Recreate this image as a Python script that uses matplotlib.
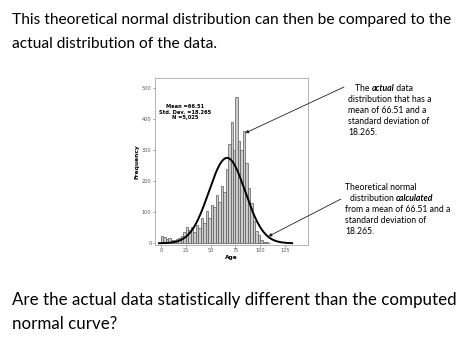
import numpy as np
import matplotlib.pyplot as plt

# histogram of ages, bins 2.5 wide starting at 0
BIN_WIDTH = 2.5
bin_starts = np.arange(0, 110, BIN_WIDTH)
counts = [22, 21, 14, 16, 12, 10, 14, 16, 22, 36,
          51, 43, 51, 37, 59, 50, 80, 64, 104, 80,
          123, 116, 155, 134, 185, 165, 240, 320, 390, 300,
          470, 328, 301, 362, 258, 178, 130, 71, 39, 28,
          12, 5, 3, 2]
MEAN = 66.51
SD = 18.265
N = 5025
x_ticks = [0, 25, 50, 75, 100, 125]
y_ticks = [0, 100, 200, 300, 400, 500]

W, H = 474, 355
FONT = ['Lato', 'DejaVu Sans']


def fy(y):
    # image pixel row -> figure fraction
    return 1 - y / H


fig = plt.figure(figsize=(W / 100, H / 100), dpi=100)
ax = fig.add_axes([155 / W, fy(245), (308 - 155) / W, (245 - 78) / H])

ax.bar(bin_starts, counts, width=BIN_WIDTH, align='edge',
       color='#cccccc', edgecolor='#5a5a5a', linewidth=0.5)

xs = np.linspace(-2, 132, 400)
curve = N * BIN_WIDTH / (SD * np.sqrt(2 * np.pi)) * np.exp(-0.5 * ((xs - MEAN) / SD) ** 2)
ax.plot(xs, curve, color='black', linewidth=1.4)

ax.set_xlim(-6, 148)
ax.set_ylim(-5.5, 531)
ax.set_xticks(x_ticks)
ax.set_yticks(y_ticks)
ax.tick_params(labelsize=3.6, length=1.5, width=0.4, colors='#555555', pad=1)
for s in ax.spines.values():
    s.set_color('#aaaaaa')
    s.set_linewidth(0.6)

ax.set_xlabel('Age', fontsize=4.2, fontweight='bold', labelpad=1)
ax.set_ylabel('Frequency', fontsize=4.2, fontweight='bold', labelpad=2)

fig.text(185 / W, fy(112), 'Mean =66.51\nStd. Dev. =18.265\nN =5,025',
         fontsize=3.7, fontweight='bold', ha='center', va='center',
         linespacing=1.0)

# slide text
fig.text(12 / W, fy(20), 'This theoretical normal distribution can then be compared to the',
         family=FONT, fontsize=11.2, va='center')
fig.text(12 / W, fy(44), 'actual distribution of the data.',
         family=FONT, fontsize=11.2, va='center')
fig.text(12 / W, fy(300), 'Are the actual data statistically different than the computed',
         family=FONT, fontsize=12.2, va='center')
fig.text(12 / W, fy(324), 'normal curve?',
         family=FONT, fontsize=12.2, va='center')

renderer = fig.canvas.get_renderer()


def lines(xstarts, y0, rows):
    for i, parts in enumerate(rows):
        xpix = xstarts[i]
        ypix = H - (y0 + i * 11 + 3)
        for txt, bold in parts:
            kw = dict(family=FONT, fontsize=6.2, va='baseline', ha='left')
            if bold:
                kw.update(fontweight='bold', fontstyle='italic')
            t = fig.text(xpix / W, ypix / H, txt, **kw)
            xpix = t.get_window_extent(renderer).x1


lines([355, 348, 348, 348, 348], 88, [
    [('The ', False), ('actual', True), (' data', False)],
    [('distribution that has a', False)],
    [('mean of 66.51 and a', False)],
    [('standard deviation of', False)],
    [('18.265.', False)],
])
lines([345, 350, 345, 345, 345], 187, [
    [('Theoretical normal', False)],
    [('distribution ', False), ('calculated', True)],
    [('from a mean of 66.51 and a', False)],
    [('standard deviation of', False)],
    [('18.265.', False)],
])

arrow = dict(arrowstyle='-|>', color='#222222', lw=0.6, mutation_scale=5,
             shrinkA=0, shrinkB=0)
ax.annotate('', xy=(84.7, 354), xycoords='data',
            xytext=(344, H - 87), textcoords='figure pixels',
            arrowprops=arrow, annotation_clip=False)
ax.annotate('', xy=(108, 22), xycoords='data',
            xytext=(341, H - 199), textcoords='figure pixels',
            arrowprops=arrow, annotation_clip=False)

fig.savefig('out.png', dpi=100)
